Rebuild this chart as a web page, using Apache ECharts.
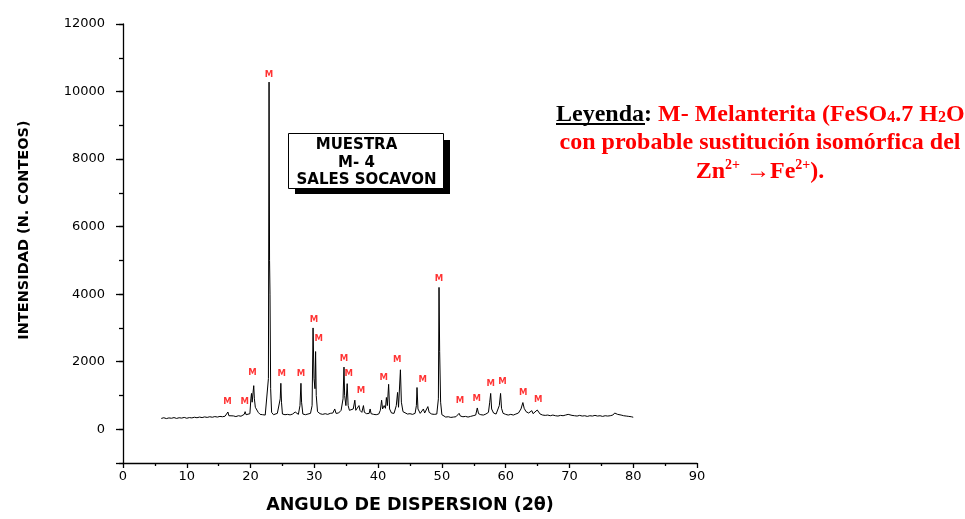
<!DOCTYPE html>
<html><head><meta charset="utf-8">
<script src="https://cdn.jsdelivr.net/npm/echarts@6/dist/echarts.min.js"></script>
<style>html,body{margin:0;padding:0;background:#fff}#c{width:965px;height:519px}</style>
</head><body><div id="c"></div>
<script>
// 2-theta values (degrees) and intensities (counts)
var twoTheta = [6.0,6.4,6.8,7.2,7.6,8.0,8.4,8.8,9.2,9.6,10.0,10.4,10.8,11.2,11.6,12.0,12.4,12.8,13.2,13.6,14.0,14.4,14.8,15.2,15.6,16.0,16.3,16.45,16.6,16.9,17.3,17.7,18.1,18.5,18.8,19.0,19.15,19.3,19.6,19.9,20.05,20.15,20.25,20.4,20.5,20.6,20.75,20.9,21.05,21.2,21.5,21.9,22.3,22.6,22.8,22.9,22.98,23.05,23.15,23.3,23.6,23.9,24.2,24.35,24.5,24.65,24.75,24.85,25.0,25.4,25.8,26.2,26.6,26.9,27.0,27.15,27.5,27.75,27.9,28.0,28.2,28.6,29.0,29.4,29.65,29.8,29.95,30.1,30.2,30.3,30.5,30.9,31.3,31.7,32.1,32.5,32.9,33.2,33.4,33.8,34.2,34.5,34.65,34.75,34.95,35.15,35.3,35.5,35.8,36.1,36.35,36.5,36.75,37.0,37.15,37.45,37.7,37.85,38.2,38.6,38.75,38.9,39.3,39.7,40.1,40.35,40.55,40.7,40.95,41.15,41.3,41.45,41.65,41.8,42.1,42.5,42.85,43.05,43.2,43.5,43.65,43.9,44.2,44.6,45.0,45.4,45.8,46.0,46.1,46.25,46.6,46.9,47.1,47.3,47.6,47.8,48.0,48.4,48.8,49.2,49.45,49.55,49.65,49.8,50.0,50.3,50.6,51.0,51.4,51.8,52.2,52.5,52.7,52.9,53.3,53.7,54.1,54.5,54.9,55.3,55.55,55.75,56.1,56.5,56.9,57.3,57.5,57.65,57.8,58.1,58.5,58.8,59.0,59.2,59.35,59.6,60.0,60.4,60.8,61.2,61.6,62.0,62.4,62.7,62.9,63.2,63.6,63.9,64.1,64.3,64.6,64.95,65.2,65.4,65.8,66.2,66.6,67.0,67.4,67.8,68.2,68.6,69.0,69.4,69.8,70.1,70.4,70.8,71.2,71.6,72.0,72.4,72.8,73.2,73.6,74.0,74.4,74.8,75.2,75.6,76.0,76.4,76.8,77.1,77.3,77.55,77.8,78.1,78.5,78.9,79.3,79.7,80.0];
var intensity = [320,340,315,335,325,345,320,340,330,350,325,345,335,355,340,360,345,365,350,370,355,375,360,380,370,385,400,510,400,380,395,375,400,385,410,440,520,430,420,460,900,1060,800,1100,1290,900,650,600,660,500,440,430,420,460,1500,10280,5000,4000,1200,500,430,450,470,510,460,900,1360,800,450,430,440,425,450,480,510,460,440,700,1360,800,450,430,450,470,700,3000,1500,1200,2300,1000,520,460,440,460,440,470,480,600,470,480,560,900,1840,1000,700,1350,700,560,520,600,860,560,520,700,560,500,700,500,460,470,600,460,440,430,450,560,860,600,700,620,940,700,1330,600,480,470,700,1090,650,1760,800,520,470,450,460,440,470,700,1235,600,470,500,600,480,520,670,500,450,440,450,900,4200,2300,800,430,380,360,370,350,360,370,400,470,390,370,380,360,380,400,420,630,460,430,420,450,500,800,1060,600,480,450,480,700,1060,620,470,440,420,440,420,450,480,600,790,620,520,480,480,550,460,440,570,580,450,420,410,420,400,420,400,390,410,400,420,440,450,410,400,390,410,390,400,380,400,390,410,390,400,380,400,390,400,420,480,530,440,470,420,400,390,380,370,355];
// "M" (Melanterita) peak markers: label positions
var markX = [16.4,19.1,20.3,22.9,24.9,27.9,29.95,30.7,34.65,35.4,37.3,40.9,43.0,47.0,49.55,52.85,55.45,57.65,59.5,62.75,65.1];
var markY = [819,819,1670,10502,1649,1649,3254,2667,2089,1649,1141,1532,2060,1473,4457,839,915,1356,1406,1083,886];
var yLabelValues = [0,2000,4000,6000,8000,10000,12000];
var yMajorTicks = [-1000,0,2000,4000,6000,8000,10000,12000];

var lineData = twoTheta.map(function(x,i){return [x,intensity[i]];});
var markData = markX.map(function(x,i){return [x,markY[i]];});

var chart = echarts.init(document.getElementById('c'));
var axisFont = 'DejaVu Sans';
chart.setOption({
  animation:false,
  backgroundColor:'#fff',
  grid:{left:123,right:268,top:24,bottom:52},
  xAxis:{
    type:'value',min:0,max:90,interval:10,
    name:'ANGULO DE DISPERSION (2\u03b8)',nameLocation:'middle',nameGap:33,
    nameTextStyle:{fontFamily:axisFont,fontWeight:'bold',fontSize:17.5,color:'#000'},
    axisLine:{show:true,onZero:false,lineStyle:{color:'#000',width:1.3}},
    axisTick:{show:true,length:5,lineStyle:{color:'#000',width:1.3}},
    minorTick:{show:true,splitNumber:2,length:3,lineStyle:{color:'#000',width:1.3}},
    axisLabel:{fontFamily:axisFont,fontSize:13,color:'#000',margin:7,formatter:function(v){return String(v);}},
    splitLine:{show:false}
  },
  yAxis:[{
    type:'value',min:-1000,max:12000,interval:1000,position:'left',
    axisLine:{show:true,onZero:false,lineStyle:{color:'#000',width:1.3}},
    axisTick:{show:true,length:4,lineStyle:{color:'#000',width:1.3}},
    axisLabel:{show:true,customValues:yLabelValues,fontFamily:axisFont,fontSize:13,color:'#000',margin:18,formatter:function(v){return String(v);}},
    splitLine:{show:false}
  },{
    type:'value',min:-1000,max:12000,interval:1000,position:'left',
    axisLine:{show:false},
    axisTick:{show:true,customValues:yMajorTicks,length:7,lineStyle:{color:'#000',width:1.3}},
    axisLabel:{show:false},
    splitLine:{show:false}
  }],
  series:[{
    type:'line',data:lineData,showSymbol:false,symbol:'none',
    lineStyle:{color:'#000',width:1},sampling:false,z:2
  },{
    type:'scatter',data:markData,symbol:'circle',symbolSize:1,
    itemStyle:{color:'rgba(0,0,0,0)'},
    label:{show:true,position:'inside',formatter:'M',color:'#ff0000',fontFamily:axisFont,fontWeight:'bold',fontSize:8.5},
    z:3
  }],
  graphic:[
    {type:'text',x:24,y:230,rotation:Math.PI/2,
     style:{text:'INTENSIDAD (N. CONTEOS)',fontFamily:axisFont,fontWeight:'bold',fontSize:14.5,fill:'#000',align:'center',verticalAlign:'middle'}},
    {type:'rect',shape:{x:295,y:140,width:155,height:54},style:{fill:'#000'},z:10},
    {type:'rect',shape:{x:288.5,y:133.5,width:155,height:55},style:{fill:'#fff',stroke:'#000',lineWidth:1},z:11},
    {type:'text',x:356.5,y:145,z:12,style:{text:'MUESTRA',fontFamily:axisFont,fontWeight:'bold',fontSize:15,fill:'#000',align:'center',verticalAlign:'middle'}},
    {type:'text',x:356.5,y:163,z:12,style:{text:'M- 4',fontFamily:axisFont,fontWeight:'bold',fontSize:15,fill:'#000',align:'center',verticalAlign:'middle'}},
    {type:'text',x:366.5,y:180,z:12,style:{text:'SALES SOCAVON',fontFamily:axisFont,fontWeight:'bold',fontSize:15,fill:'#000',align:'center',verticalAlign:'middle'}},
    {type:'text',x:556,y:115,z:12,style:{
      text:'{k|Leyenda}{k|: }{r|M- Melanterita (FeSO}{s|4}{r|.7 H}{s|2}{r|O}',
      align:'left',verticalAlign:'middle',
      rich:{
        k:{fontFamily:'Liberation Serif',fontWeight:'bold',fontSize:24,fill:'#000',lineHeight:28},
        r:{fontFamily:'Liberation Serif',fontWeight:'bold',fontSize:24,fill:'#ff0000',lineHeight:28},
        s:{fontFamily:'Liberation Serif',fontWeight:'bold',fontSize:16,fill:'#ff0000',lineHeight:18,padding:[5,0,0,0]}
      }}},
    {type:'rect',shape:{x:556,y:123,width:89,height:2},style:{fill:'#000'},z:12},
    {type:'text',x:760,y:143,z:12,style:{text:'con probable sustituci\u00f3n isom\u00f3rfica del',
      fontFamily:'Liberation Serif',fontWeight:'bold',fontSize:24,fill:'#ff0000',align:'center',verticalAlign:'middle'}},
    {type:'text',x:760,y:172,z:12,style:{
      text:'{r|Zn}{p|2+}{r| \u2192Fe}{p|2+}{r|).}',
      align:'center',verticalAlign:'middle',
      rich:{
        r:{fontFamily:'Liberation Serif',fontWeight:'bold',fontSize:24,fill:'#ff0000',lineHeight:28},
        p:{fontFamily:'Liberation Serif',fontWeight:'bold',fontSize:14,fill:'#ff0000',lineHeight:22,verticalAlign:'top'}
      }}}
  ]
});
</script></body></html>
